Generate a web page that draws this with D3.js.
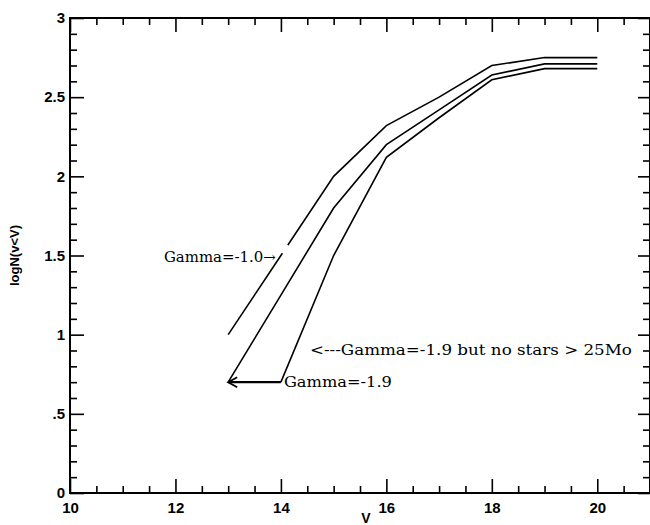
<!DOCTYPE html>
<html>
<head>
<meta charset="utf-8">
<style>
    body { margin: 0; background: #fff; }
    svg { display: block; }
    .tick text { font-family: "Liberation Sans", Arial, sans-serif; font-weight: bold; font-size: 15px; fill: #000; }
    .tick line { stroke: #000; stroke-width: 1.6; }
    .label { font-family: "DejaVu Serif", serif; font-size: 14px; fill: #000; }
</style>
</head>
<body>
<svg width="650" height="525"></svg>
<script src="https://d3js.org/d3.v7.min.js"></script>
<script>
    // magnitudes along the x axis
    var vMag = [13, 14, 15, 16, 17, 18, 19, 20];
    // logN(v<V) for each model
    var gammaOne = [1.0, 1.5, 2.0, 2.32, 2.5, 2.7, 2.75, 2.75];
    var gammaNineteen = [0.7, 1.25, 1.8, 2.2, 2.42, 2.64, 2.71, 2.71];
    var gammaNoMassive = [null, 0.7, 1.5, 2.12, 2.37, 2.61, 2.68, 2.68];

    var xMajor = [10, 12, 14, 16, 18, 20];
    var xMinor = [10.5, 11, 11.5, 12.5, 13, 13.5, 14.5, 15, 15.5, 16.5, 17, 17.5, 18.5, 19, 19.5, 20.5];
    var yMajor = [0, 0.5, 1, 1.5, 2, 2.5, 3];
    var yLabels = ["0", ".5", "1", "1.5", "2", "2.5", "3"];

    var svg = d3.select("svg"),
        margin = {top: 18, right: 0, bottom: 32, left: 70},
        width = +svg.attr("width") - margin.left - margin.right,
        height = +svg.attr("height") - margin.top - margin.bottom;

    var x = d3.scaleLinear().domain([10, 21]).range([0, width]);
    var y = d3.scaleLinear().domain([0, 3]).range([height, 0]);

    var g = svg.append("g").attr("transform", "translate(" + margin.left + "," + margin.top + ")");

    var yMinor = d3.range(0, 31).map(function(i) { return i / 10; })
        .filter(function(v) { return Math.round(v * 10) % 5 !== 0; });

    function strip(sel) { sel.select(".domain").remove(); }

    // minor ticks on all four sides
    g.append("g").attr("transform", "translate(0," + height + ")")
        .call(d3.axisBottom(x).tickValues(xMinor).tickSize(-7).tickSizeOuter(0).tickFormat("")).call(strip);
    g.append("g")
        .call(d3.axisTop(x).tickValues(xMinor).tickSize(-7).tickSizeOuter(0).tickFormat("")).call(strip);
    g.append("g")
        .call(d3.axisLeft(y).tickValues(yMinor).tickSize(-7).tickSizeOuter(0).tickFormat("")).call(strip);
    g.append("g").attr("transform", "translate(" + width + ",0)")
        .call(d3.axisRight(y).tickValues(yMinor).tickSize(-7).tickSizeOuter(0).tickFormat("")).call(strip);

    // major ticks
    g.append("g").attr("transform", "translate(0," + height + ")")
        .call(d3.axisBottom(x).tickValues(xMajor).tickSize(-14).tickSizeOuter(0).tickPadding(9).tickFormat(d3.format("d"))).call(strip);
    g.append("g")
        .call(d3.axisTop(x).tickValues(xMajor).tickSize(-14).tickSizeOuter(0).tickFormat("")).call(strip);
    g.append("g")
        .call(d3.axisLeft(y).tickValues(yMajor).tickSize(-14).tickSizeOuter(0).tickPadding(5)
            .tickFormat(function(d, i) { return yLabels[i]; })).call(strip);
    g.append("g").attr("transform", "translate(" + width + ",0)")
        .call(d3.axisRight(y).tickValues(yMajor).tickSize(-12).tickSizeOuter(0).tickFormat("")).call(strip);

    // frame
    g.append("rect")
        .attr("width", width).attr("height", height)
        .attr("fill", "none").attr("stroke", "#000").attr("stroke-width", 2);

    // axis titles
    svg.append("text")
        .attr("transform", "translate(19," + (margin.top + y(1.5)) + ") rotate(-90)")
        .attr("text-anchor", "middle")
        .style("font-family", "Liberation Sans, Arial, sans-serif")
        .style("font-weight", "bold").style("font-size", "13px")
        .text("logN(v<V)");
    svg.append("text")
        .attr("x", 366).attr("y", 523)
        .attr("text-anchor", "middle")
        .style("font-family", "Liberation Sans, Arial, sans-serif")
        .style("font-weight", "bold").style("font-size", "14px")
        .text("V");

    // gap in the Gamma=-1.0 curve next to its label
    var defs = svg.append("defs");
    var mask = defs.append("mask").attr("id", "gap").attr("maskUnits", "userSpaceOnUse");
    mask.append("rect").attr("x", -margin.left).attr("y", -margin.top)
        .attr("width", 650).attr("height", 525).attr("fill", "#fff");
    mask.append("circle").attr("cx", x(14.08)).attr("cy", y(1.54)).attr("r", 5).attr("fill", "#000");

    var line = function(vals) {
        return d3.line()
            .defined(function(d, i) { return vals[i] != null; })
            .x(function(d) { return x(d); })
            .y(function(d, i) { return y(vals[i]); })(vMag);
    };

    g.append("path").attr("d", line(gammaOne)).attr("mask", "url(#gap)")
        .attr("fill", "none").attr("stroke", "#000").attr("stroke-width", 1.6);
    g.append("path").attr("d", line(gammaNineteen))
        .attr("fill", "none").attr("stroke", "#000").attr("stroke-width", 1.6);
    g.append("path").attr("d", line(gammaNoMassive))
        .attr("fill", "none").attr("stroke", "#000").attr("stroke-width", 1.6);

    // arrow from the Gamma=-1.9 label to its curve
    g.append("line")
        .attr("x1", x(14)).attr("y1", y(0.7)).attr("x2", x(13)).attr("y2", y(0.7))
        .attr("stroke", "#000").attr("stroke-width", 2.2);
    g.append("path")
        .attr("d", "M" + (x(13) + 9) + "," + (y(0.7) - 5) + "L" + x(13) + "," + y(0.7) + "L" + (x(13) + 9) + "," + (y(0.7) + 5))
        .attr("fill", "none").attr("stroke", "#000").attr("stroke-width", 1.8);

    // annotations
    g.append("text").attr("class", "label")
        .attr("x", x(14) - 5).attr("y", y(1.5) + 6)
        .attr("text-anchor", "end")
        .attr("textLength", 112).attr("lengthAdjust", "spacingAndGlyphs")
        .text("Gamma=-1.0\u2192");
    g.append("text").attr("class", "label")
        .attr("x", x(14) + 3).attr("y", y(0.7) + 5)
        .attr("textLength", 108).attr("lengthAdjust", "spacingAndGlyphs")
        .text("Gamma=-1.9");
    g.append("text").attr("class", "label")
        .attr("x", x(14.55)).attr("y", y(0.87))
        .attr("textLength", 322).attr("lengthAdjust", "spacingAndGlyphs")
        .text("<---Gamma=-1.9 but no stars > 25Mo");
</script>
</body>
</html>
